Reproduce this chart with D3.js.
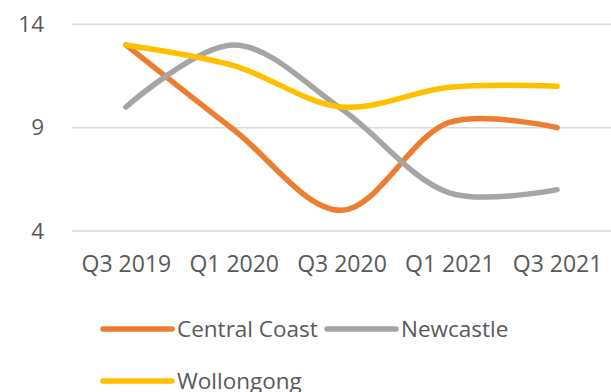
<!DOCTYPE html>
<html><head><meta charset="utf-8">
<script src="https://cdn.jsdelivr.net/npm/d3@7"></script>
<style>body{margin:0;background:#fff;} text{font-family:"Open Sans","Liberation Sans",sans-serif;fill:#595959;}</style>
</head><body>
<svg id="c" width="611" height="392"></svg>
<script>
const categories = ["Q3 2019","Q1 2020","Q3 2020","Q1 2021","Q3 2021"];
const centralCoast = [13.0, 8.9, 5.0, 9.25, 9.0];
const newcastle = [10.0, 13.0, 9.9, 5.85, 6.0];
const wollongong = [13.0, 12.0, 10.0, 10.95, 11.0];
const yTicks = [4, 9, 14];
const seriesNames = ["Central Coast","Newcastle","Wollongong"];
const colors = ["#ED7D31","#A5A5A5","#FFC000"];

const series = [centralCoast, newcastle, wollongong].map((v,i)=>({name:seriesNames[i], values:v, color:colors[i]}));
const svg = d3.select("#c");
const x = d3.scalePoint().domain(categories).range([72, 611]).padding(0.5);
const y = d3.scaleLinear().domain([4,14]).range([231, 24.3]);

// gridlines
svg.append("g").selectAll("line").data(yTicks).join("line")
  .attr("x1",72).attr("x2",611).attr("y1",d=>y(d)).attr("y2",d=>y(d))
  .attr("stroke","#D9D9D9").attr("stroke-width",1.5);

const yAxis = svg.append("g").attr("transform","translate(44,0)")
  .call(d3.axisLeft(y).tickValues(yTicks).tickSize(0).tickPadding(0));
yAxis.select(".domain").remove();
yAxis.selectAll("text").attr("font-size",22.5).style("font-family",'"Open Sans","Liberation Sans",sans-serif').attr("fill","#595959");

const xAxis = svg.append("g").attr("transform","translate(0,256)")
  .call(d3.axisBottom(x).tickSize(0).tickPadding(0));
xAxis.select(".domain").remove();
xAxis.selectAll("text").attr("font-size",23).attr("dy","0.71em").style("font-family",'"Open Sans","Liberation Sans",sans-serif').attr("fill","#595959");

const line = d3.line().x((d,i)=>x(categories[i])).y(d=>y(d)).curve(d3.curveCatmullRom.alpha(0.5));
svg.append("g").selectAll("path").data(series).join("path")
  .attr("d",d=>line(d.values)).attr("fill","none").attr("stroke",d=>d.color)
  .attr("stroke-width",5.5).attr("stroke-linecap","round").attr("stroke-linejoin","round");

// legend
const legPos = [{x:103,y:329},{x:327,y:329},{x:103,y:381}];
const leg = svg.append("g").selectAll("g").data(series).join("g")
  .attr("transform",(d,i)=>`translate(${legPos[i].x},${legPos[i].y})`);
leg.append("line").attr("x1",0).attr("x2",69).attr("y1",0).attr("y2",0)
  .attr("stroke",d=>d.color).attr("stroke-width",5.5).attr("stroke-linecap","round");
leg.append("text").attr("x",74).attr("y",0).attr("dy","0.35em").attr("font-size",22.5).text(d=>d.name);
</script>
</body></html>
